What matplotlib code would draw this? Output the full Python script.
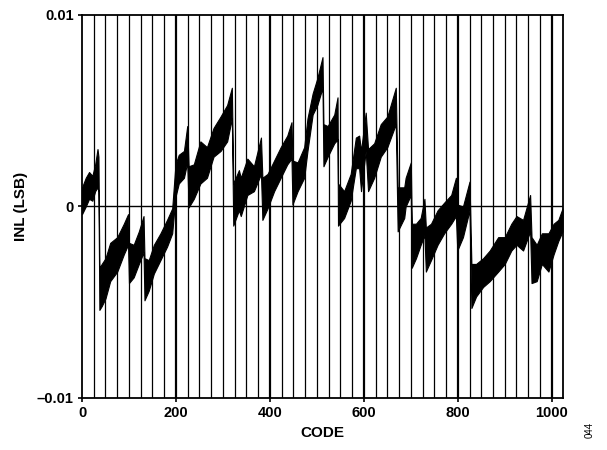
import matplotlib
matplotlib.use("Agg")
import matplotlib.pyplot as plt
import numpy as np

plt.rcParams['font.family'] = ['Liberation Sans', 'DejaVu Sans']

# INL envelope (code, upper, lower), values in LSB
codes = [0, 8, 15, 22, 28, 33, 35, 37, 42, 50, 60, 75, 89, 98, 100, 110, 121, 131, 133,
         142, 153, 167, 181, 192, 199, 206, 217, 224, 227, 238, 252, 266, 280, 295, 309,
         319, 322, 334, 338, 352, 366, 381, 384, 395, 409, 423, 437, 446, 448, 459, 473,
         480, 491, 501, 512, 514, 523, 537, 544, 545, 558, 572, 583, 590, 594, 604, 609,
         622, 636, 650, 668, 672, 686, 689, 700, 702, 711, 721, 729, 732, 743, 757, 771,
         786, 796, 799, 811, 825, 829, 839, 854, 868, 886, 900, 914, 925, 939, 954, 957,
         968, 979, 993, 1004, 1014, 1023]
inl_hi = [1.0, 1.5, 1.8, 1.6, 2.2, 3.0, 2.6, -3.2, -3.0, -2.7, -1.9, -1.6, -0.9, -0.4, -1.9,
          -2.0, -1.3, -0.5, -2.7, -2.8, -2.0, -1.4, -0.7, -0.1, 2.2, 2.7, 2.9, 4.2, 2.1,
          2.2, 3.4, 3.1, 4.1, 4.7, 5.3, 6.2, 1.2, 1.9, 1.5, 2.5, 2.1, 3.6, 1.5, 1.7, 2.4,
          3.1, 3.7, 4.4, 2.4, 2.3, 3.1, 4.6, 5.9, 6.7, 7.8, 4.3, 4.2, 4.8, 5.7, 1.2, 0.8,
          1.7, 3.6, 3.7, 2.9, 4.9, 3.0, 3.3, 4.3, 4.7, 6.2, 1.0, 1.0, 1.5, 2.3, -0.9, -0.9,
          -0.6, 0.4, -1.1, -0.9, -0.2, 0.2, 0.6, 1.5, 0.1, 0.0, 1.3, -3.0, -3.0, -2.7,
          -2.3, -1.6, -1.6, -0.9, -0.5, -0.7, 0.6, -1.6, -2.0, -1.4, -1.4, -0.9, -0.7, -0.1]
inl_lo = [-0.4, 0.0, 0.4, 0.3, 0.8, 1.0, 0.8, -5.4, -5.2, -4.8, -3.9, -3.4, -2.5, -2.0, -4.0,
          -3.7, -3.0, -2.4, -4.9, -4.4, -3.5, -2.8, -2.1, -1.4, 0.5, 1.2, 1.5, 2.3, -0.05,
          0.4, 1.2, 1.5, 2.6, 2.9, 3.4, 4.6, -1.0, -0.2, -0.5, 0.6, 0.8, 1.7, -0.7, -0.1,
          0.8, 1.5, 2.2, 2.5, 0.1, 0.8, 1.5, 2.9, 4.8, 5.3, 6.2, 2.1, 2.6, 3.3, 3.5, -1.0,
          -0.6, 0.3, 2.0, 2.0, 0.8, 2.9, 0.8, 1.5, 2.6, 3.1, 4.3, -1.3, -0.6, 0.0, 0.6,
          -3.2, -2.7, -2.0, -1.5, -3.4, -2.8, -2.0, -1.4, -0.9, -0.5, -2.3, -1.6, -0.2,
          -5.3, -4.7, -4.2, -3.9, -3.4, -3.0, -2.3, -2.0, -2.3, -1.3, -4.0, -3.9, -3.0,
          -3.4, -2.5, -1.8, -1.3]
scale = 1e-3

x_ticks = [0, 200, 400, 600, 800, 1000]
y_ticks = [-0.01, 0, 0.01]
y_ticklabels = ['\u20130.01', '0', '0.01']

fig = plt.figure(figsize=(6.07, 4.5), dpi=100)
ax = fig.add_axes([0.1351, 0.1156, 0.7924, 0.8511])

c = np.array(codes)
hi = np.array(inl_hi) * scale
lo = np.array(inl_lo) * scale

# vertical grid every 25 codes
for g in range(25, 1024, 25):
    lw = 1.6 if g % 200 == 0 else 0.9
    ax.axvline(g, color='black', lw=lw, zorder=1)
ax.axhline(0, color='black', lw=1.0, zorder=1)

ax.fill_between(c, lo, hi, color='black', lw=0.8, edgecolor='black', zorder=2)

ax.set_xlim(0, 1024)
ax.set_ylim(-0.01, 0.01)
ax.set_xticks(x_ticks)
ax.set_xticklabels([str(t) for t in x_ticks])
ax.set_yticks(y_ticks)
ax.set_yticklabels(y_ticklabels)
ax.tick_params(axis='both', direction='out', length=3, width=1.2, labelsize=10.5, pad=3)
for lab in ax.get_xticklabels() + ax.get_yticklabels():
    lab.set_fontweight('bold')
for s in ax.spines.values():
    s.set_linewidth(1.3)

ax.set_xlabel('CODE', fontsize=11, fontweight='bold', labelpad=4)
ax.set_ylabel('INL (LSB)', fontsize=11, fontweight='bold', labelpad=6)

fig.text(0.972, 0.045, '044', rotation=90, fontsize=7, ha='center', va='center')

fig.savefig('out.png', dpi=100)
